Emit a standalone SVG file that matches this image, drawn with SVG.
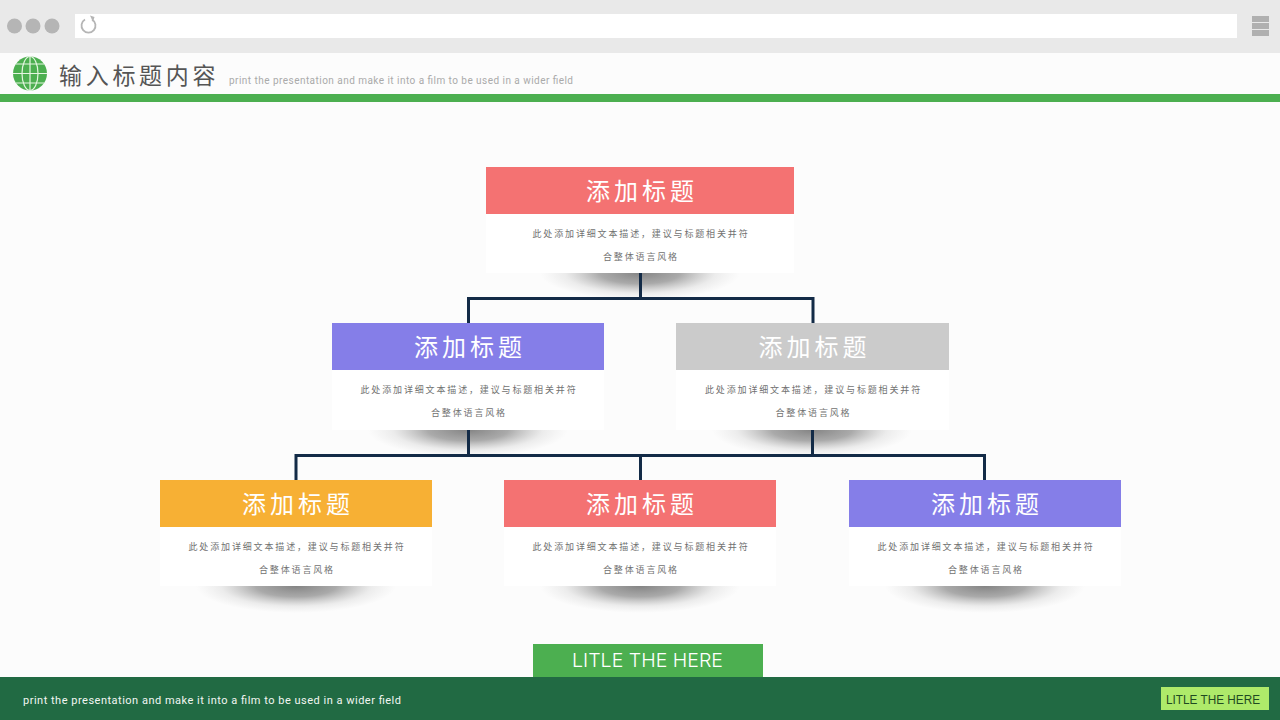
<svg xmlns="http://www.w3.org/2000/svg" width="1280" height="720" viewBox="0 0 1280 720">
<style>
.cjk{font-family:"Noto Sans CJK SC","Noto Sans",sans-serif}
.head{font-size:24px;fill:#fff;text-anchor:middle;letter-spacing:4px;font-weight:400}
.body{font-size:9px;fill:#707070;text-anchor:middle;letter-spacing:1.85px;opacity:.99}
.card{fill:#fff}
.red{fill:#f47272}.purple{fill:#857ee8}.gray{fill:#cbcbcb}.orange{fill:#f7b034}
.conn{fill:none;stroke:#132b47;stroke-width:3}
.globe{fill:none;stroke:#e4f5e0;stroke-width:1.2}
</style>
<defs>
<radialGradient id="sh"><stop offset="0" stop-color="#555" stop-opacity=".72"/><stop offset=".4" stop-color="#666" stop-opacity=".55"/><stop offset=".75" stop-color="#888" stop-opacity=".14"/><stop offset="1" stop-color="#999" stop-opacity="0"/></radialGradient>
</defs>
<rect width="1280" height="720" fill="#fcfcfc"/>
<g id="browser">
<rect width="1280" height="53" fill="#e9e9e9"/>
<rect x="75" y="14" width="1162" height="24" fill="#fff"/>
<circle cx="14.500" cy="26" r="7.500" fill="#b5b5b5"/><circle cx="33" cy="26" r="7.500" fill="#b5b5b5"/><circle cx="52" cy="26" r="7.500" fill="#b5b5b5"/>
<path d="M85 19.500A7 7 0 1 0 92 19.500" fill="none" stroke="#b5b5b5" stroke-width="1.800"/><path d="M90 15.500l4.500 1.500-1.500 5z" fill="#b5b5b5"/>
<rect x="1252" y="16" width="17" height="6" fill="#b0b0b0"/><rect x="1252" y="23" width="17" height="6" fill="#b0b0b0"/><rect x="1252" y="30" width="17" height="6" fill="#b0b0b0"/>
</g>
<g id="header">
<circle cx="30" cy="73.500" r="17" fill="#4caf50"/>
<g class="globe"><ellipse cx="30" cy="73.500" rx="8" ry="17"/><path d="M30 56.500V90.500M13 73.500H47M16 64H44M16 83H44"/></g>
<text class="cjk" x="59" y="84" font-size="23" fill="#555" letter-spacing="3.700">输入标题内容</text>
<text x="229" y="84" font-family="Roboto,sans-serif" font-size="10" fill="#aaa" textLength="344">print the presentation and make it into a film to be used in a wider field</text>
<rect y="94" width="1280" height="8" fill="#4caf50"/>
</g>
<g id="shadows">
<ellipse cx="640" cy="273" rx="100" ry="27" fill="url(#sh)"/>
<ellipse cx="468" cy="430" rx="100" ry="27" fill="url(#sh)"/>
<ellipse cx="812" cy="430" rx="100" ry="27" fill="url(#sh)"/>
<ellipse cx="296" cy="586" rx="100" ry="27" fill="url(#sh)"/>
<ellipse cx="640" cy="586" rx="100" ry="27" fill="url(#sh)"/>
<ellipse cx="985" cy="586" rx="100" ry="27" fill="url(#sh)"/>
</g>
<g id="connectors">
<path class="conn" d="M640.500 273V298.500M468.500 323V298.500H813V323"/>
<path class="conn" d="M468.500 430V455.500M812.500 430V455.500M296 480V455.500H984.500V480M640.500 455.500V480"/>
</g>
<g id="node-top">
<rect class="card" x="486" y="214" width="308" height="59"/><rect class="red" x="486" y="167" width="308" height="47"/>
<text class="cjk head" x="642" y="199.500">添加标题</text>
<text class="cjk body" x="641" y="237">此处添加详细文本描述，建议与标题相关并符</text><text class="cjk body" x="641" y="260">合整体语言风格</text>
</g>
<g id="node-mid-left">
<rect class="card" x="332" y="370" width="272" height="60"/><rect class="purple" x="332" y="323" width="272" height="47"/>
<text class="cjk head" x="470" y="356">添加标题</text>
<text class="cjk body" x="469" y="393">此处添加详细文本描述，建议与标题相关并符</text><text class="cjk body" x="469" y="416">合整体语言风格</text>
</g>
<g id="node-mid-right">
<rect class="card" x="676" y="370" width="273" height="60"/><rect class="gray" x="676" y="323" width="273" height="47"/>
<text class="cjk head" x="814.500" y="356">添加标题</text>
<text class="cjk body" x="813.500" y="393">此处添加详细文本描述，建议与标题相关并符</text><text class="cjk body" x="813.500" y="416">合整体语言风格</text>
</g>
<g id="node-bottom-left">
<rect class="card" x="160" y="527" width="272" height="59"/><rect class="orange" x="160" y="480" width="272" height="47"/>
<text class="cjk head" x="298" y="512.500">添加标题</text>
<text class="cjk body" x="297" y="549.500">此处添加详细文本描述，建议与标题相关并符</text><text class="cjk body" x="297" y="572.500">合整体语言风格</text>
</g>
<g id="node-bottom-mid">
<rect class="card" x="504" y="527" width="272" height="59"/><rect class="red" x="504" y="480" width="272" height="47"/>
<text class="cjk head" x="642" y="512.500">添加标题</text>
<text class="cjk body" x="641" y="549.500">此处添加详细文本描述，建议与标题相关并符</text><text class="cjk body" x="641" y="572.500">合整体语言风格</text>
</g>
<g id="node-bottom-right">
<rect class="card" x="849" y="527" width="272" height="59"/><rect class="purple" x="849" y="480" width="272" height="47"/>
<text class="cjk head" x="987" y="512.500">添加标题</text>
<text class="cjk body" x="986" y="549.500">此处添加详细文本描述，建议与标题相关并符</text><text class="cjk body" x="986" y="572.500">合整体语言风格</text>
</g>
<g id="footer">
<rect x="533" y="644" width="230" height="33" fill="#4caf50"/>
<text x="572" y="667" font-family="Inter,sans-serif" font-weight="300" font-size="18.500" fill="#fff" textLength="151" lengthAdjust="spacingAndGlyphs">LITLE THE HERE</text>
<rect y="677" width="1280" height="43" fill="#216a43"/>
<text x="23" y="704" font-family="Roboto,sans-serif" font-size="11" fill="#f2f6f2" textLength="378">print the presentation and make it into a film to be used in a wider field</text>
<rect x="1161" y="687" width="108" height="23" fill="#aeea6a"/>
<text x="1166" y="704" font-family="Liberation Sans,sans-serif" font-size="12.500" fill="#1f4a22" textLength="94" lengthAdjust="spacingAndGlyphs">LITLE THE HERE</text>
</g>
</svg>
